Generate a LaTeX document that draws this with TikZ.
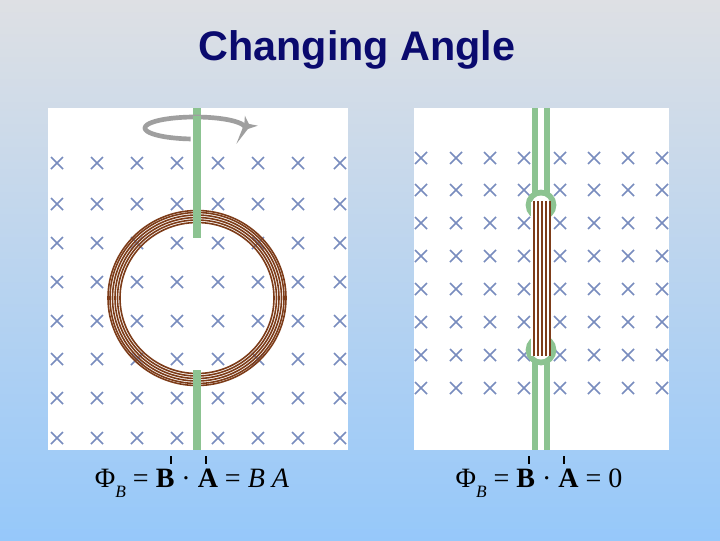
\documentclass[tikz,border=0pt]{standalone}
\usepackage{fontspec}
\setmainfont{Liberation Serif}
\newfontfamily\titlefont{Liberation Sans}
\usetikzlibrary{arrows.meta}
\definecolor{bgtop}{RGB}{222,224,228}
\definecolor{bgbot}{RGB}{150,200,250}
\definecolor{xcol}{RGB}{120,140,190}
\definecolor{rod}{RGB}{140,195,145}
\definecolor{wire}{RGB}{125,60,25}
\definecolor{navy}{RGB}{10,10,110}
\tikzset{
  xmark/.style={xcol,line width=1.1pt},
  panel/.style={fill=white,draw=none},
  wireline/.style={wire,line width=1.2pt},
  tick/.style={line width=1pt},
  formula/.style={font=\fontsize{21}{24}\selectfont}
}
\newcommand{\crossat}[2]{\draw[xmark] (#1-6,#2-6) -- (#1+6,#2+6) (#1-6,#2+6) -- (#1+6,#2-6);}
\newcommand{\subB}{\raisebox{-0.35em}{\fontsize{13}{14}\selectfont\itshape B}}
\begin{document}
\begin{tikzpicture}[x=0.75pt,y=-0.75pt]
\shade[top color=bgtop,bottom color=bgbot] (0,0) rectangle (720,540);
\useasboundingbox (0,0) rectangle (720,540);
\node[font=\titlefont\bfseries\fontsize{31}{34}\selectfont,text=navy] (title) at (357,50) {Changing Angle};
% left panel
\fill[panel] (48,108) rectangle (348,450);
\foreach \x in {57,97,137,177,218,258,298,340}
  \foreach \y in {163,204,243,282,321,359,398,438} {\crossat{\x}{\y}}
\foreach \r in {77,79.5,82,84.5,87,89} \draw[wireline] (197,298) ellipse ({\r} and {\r-1.5});
\fill[rod] (193,108) rectangle (201,238);
\fill[rod] (193,370) rectangle (201,450);
\draw[gray!75,line width=3.5pt,-{Stealth[length=9pt,width=12pt]}] plot[domain=95:372,samples=60] ({195+50*cos(\x)},{128+11*sin(\x)});
\fill[rod] (193,116) rectangle (201,138);
% right panel
\fill[panel] (414,108) rectangle (669,450);
\foreach \x in {421,456,490,524,560,594,628,662}
  \foreach \y in {158,190,223,256,289,322,355,388} {\crossat{\x}{\y}}
\draw[rod,line width=5pt] (541,205) circle (12);
\draw[rod,line width=5pt] (541,350) circle (12);
\fill[white] (541,205) circle (9.5);
\fill[white] (541,350) circle (9.5);
\draw[rod,line width=5pt] (535,108) -- (535,195) (547,108) -- (547,195);
\draw[rod,line width=5pt] (535,360) -- (535,450) (547,360) -- (547,450);
\fill[white] (531,202) rectangle (551,356);
\foreach \x in {534,538,542,546,550} \draw[wireline,line width=1.3pt] (\x,201) -- (\x,356);
% formulas
\node[formula] (f1) at (192,483) {Φ\subB\ = \textbf{B} · \textbf{A} = \textit{B A}};
\node[formula] (f2) at (539,483) {Φ\subB\ = \textbf{B} · \textbf{A} = 0};
\draw[tick] (171,456) -- (171,464) (206,456) -- (206,464);
\draw[tick] (529,456) -- (529,464) (564,456) -- (564,464);
\end{tikzpicture}
\end{document}
